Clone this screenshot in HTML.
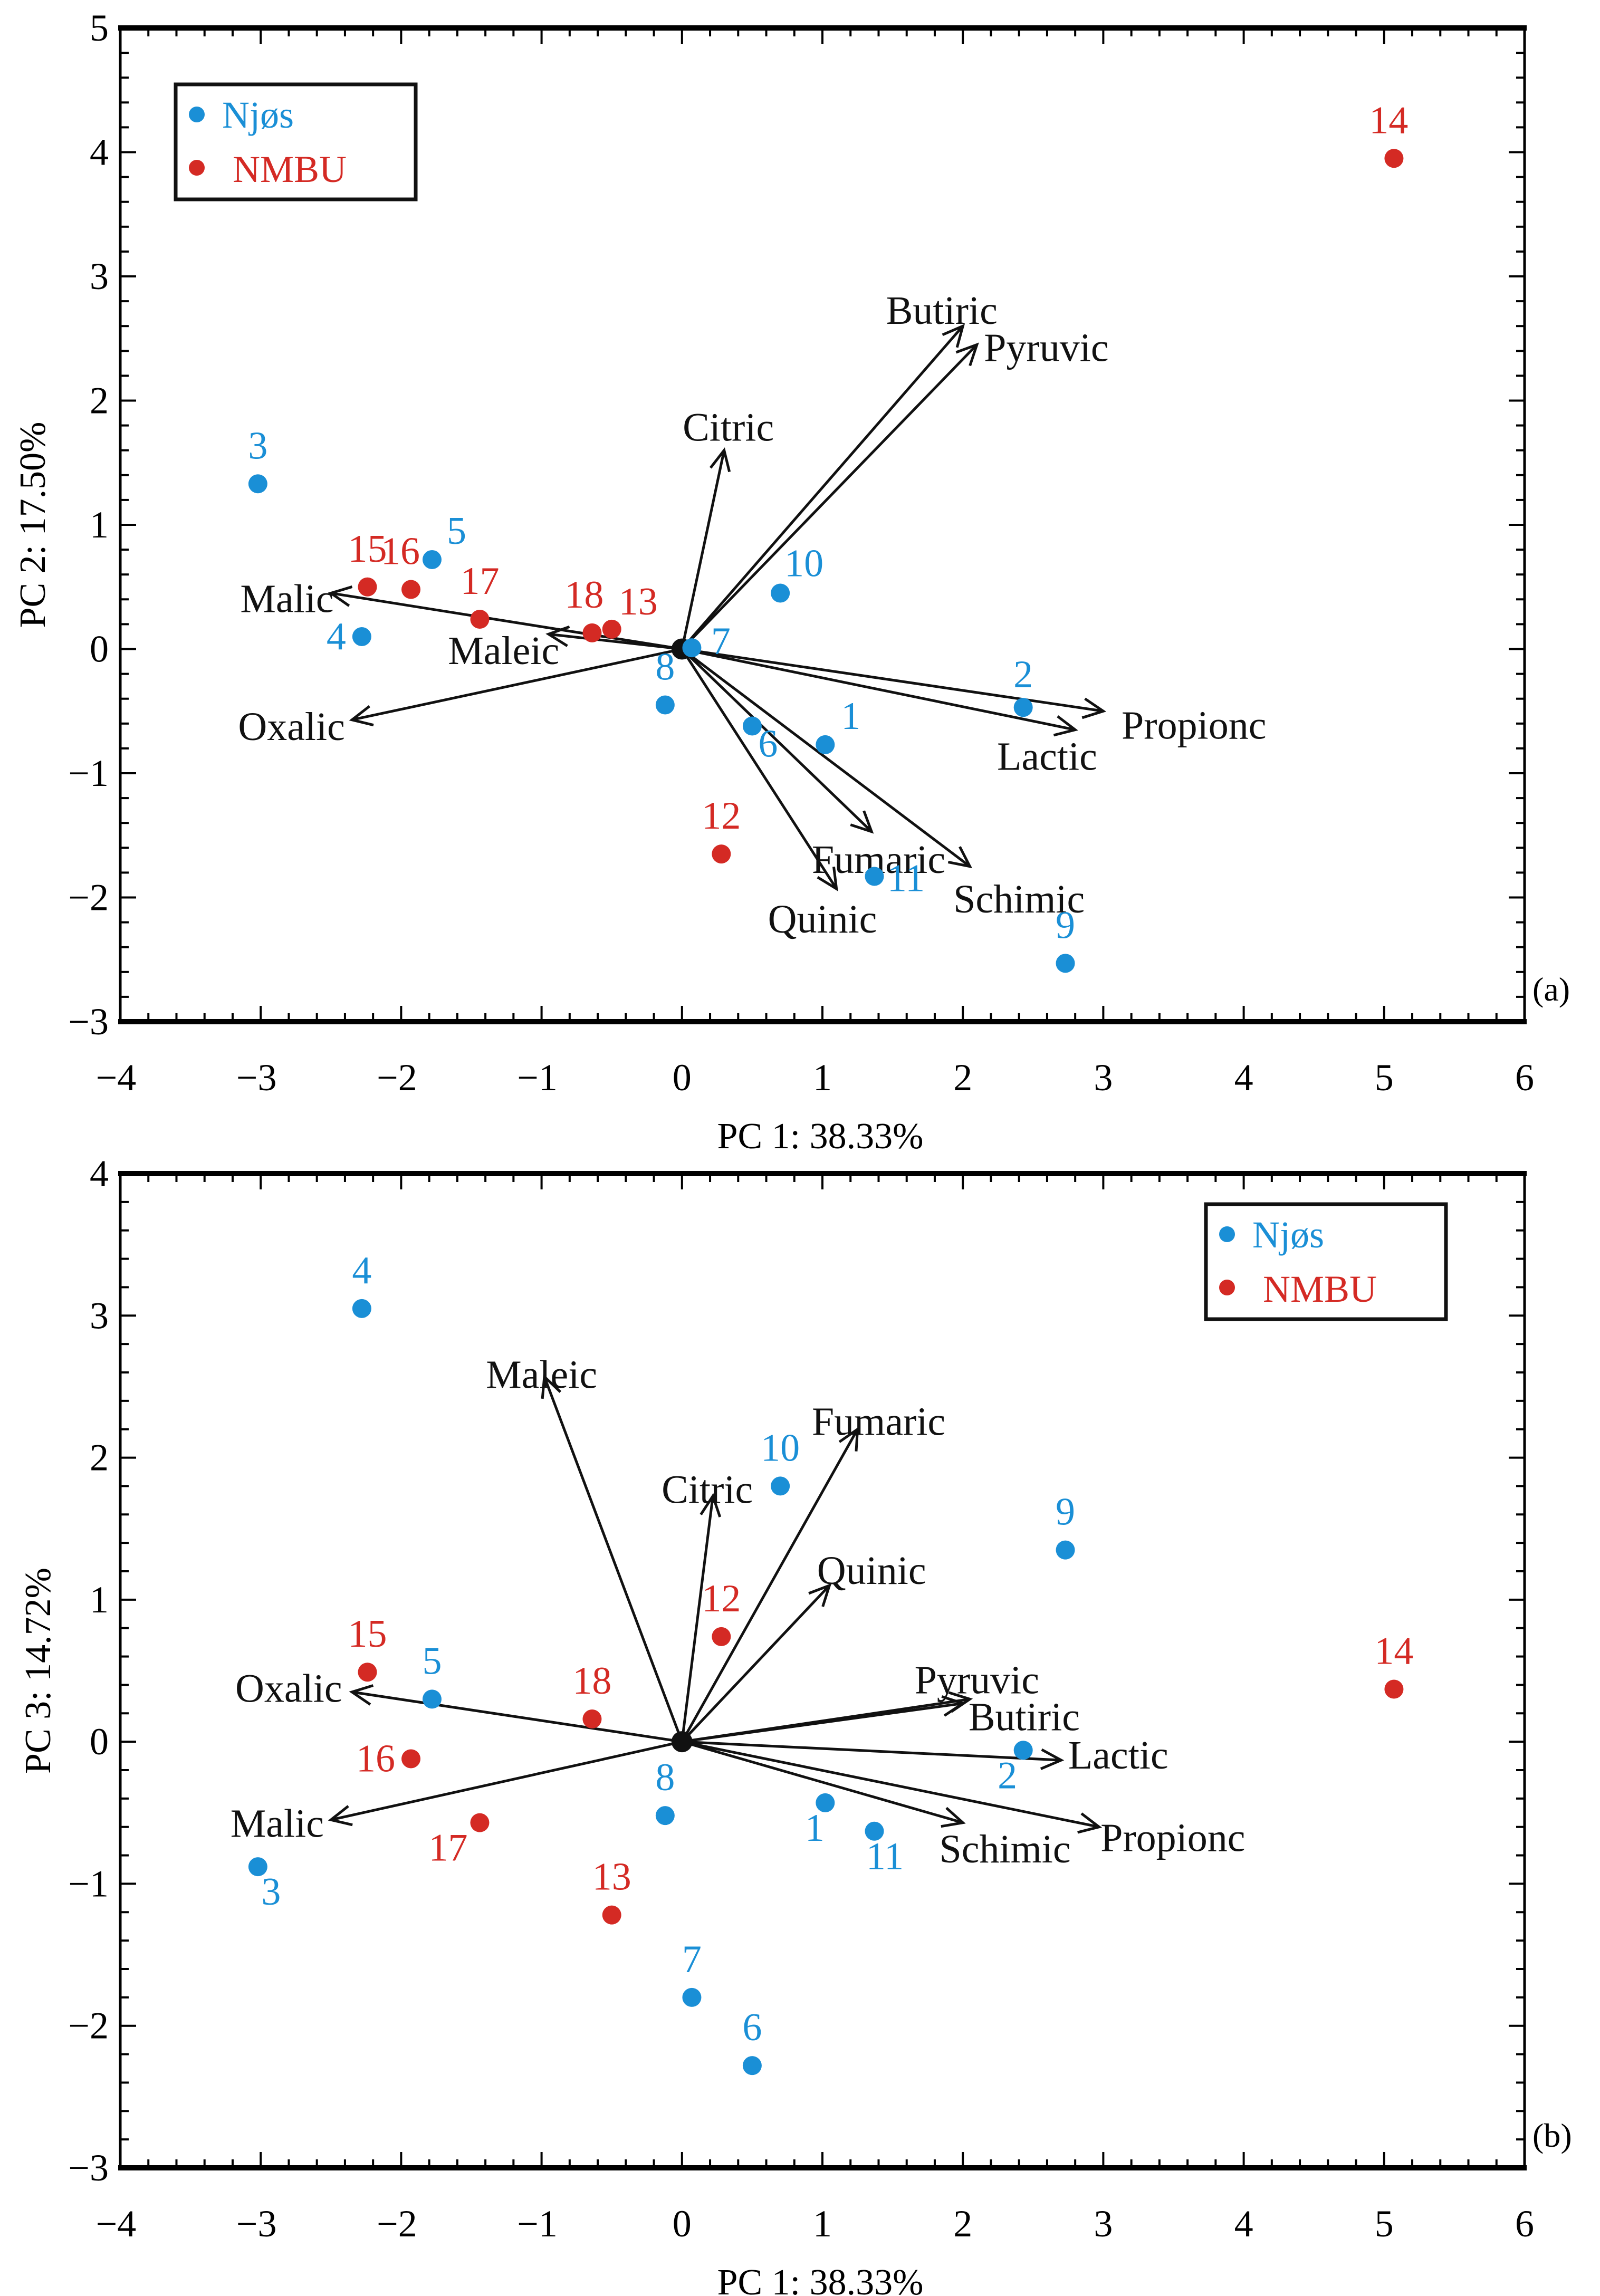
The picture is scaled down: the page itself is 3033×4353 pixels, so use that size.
<!DOCTYPE html>
<html><head><meta charset="utf-8">
<style>
html,body{margin:0;padding:0;background:#fff;}
svg{display:block;font-family:"Liberation Serif",serif;}
</style></head>
<body>
<svg id="fig" width="3033" height="4353" viewBox="0 0 3033 4353" xmlns="http://www.w3.org/2000/svg"></svg>
<script>
// ---------- data ----------
const sampleIds = ["1","2","3","4","5","6","7","8","9","10","11","12","13","14","15","16","17","18"];
const sampleGroup = ["N","N","N","N","N","N","N","N","N","N","N","M","M","M","M","M","M","M"];
const pc1Scores = [1.02,2.43,-3.02,-2.28,-1.78,0.50,0.07,-0.12,2.73,0.70,1.37,0.28,-0.50,5.07,-2.24,-1.93,-1.44,-0.64];
const pc2Scores = [-0.77,-0.47,1.33,0.10,0.72,-0.62,0.01,-0.45,-2.53,0.45,-1.83,-1.65,0.16,3.95,0.50,0.48,0.24,0.13];
const pc3Scores = [-0.43,-0.06,-0.88,3.05,0.30,-2.28,-1.80,-0.52,1.35,1.80,-0.63,0.74,-1.22,0.37,0.49,-0.12,-0.57,0.16];

const acidNames = ["Butiric","Pyruvic","Citric","Malic","Maleic","Oxalic","Propionc","Lactic","Fumaric","Schimic","Quinic"];
const loadA_x = [2.00,2.10,0.30,-2.50,-0.95,-2.35,3.00,2.80,1.35,2.05,1.10];
const loadA_y = [2.60,2.45,1.60,0.45,0.12,-0.57,-0.50,-0.65,-1.47,-1.75,-1.93];
const loadB_x = [2.05,2.00,0.22,-2.50,-0.98,-2.35,2.97,2.70,1.25,2.00,1.05];
const loadB_y = [0.30,0.27,1.73,-0.55,2.57,0.35,-0.60,-0.13,2.20,-0.57,1.10];

const xTicks = [-4,-3,-2,-1,0,1,2,3,4,5,6];
const yTicksA = [-3,-2,-1,0,1,2,3,4,5];
const yTicksB = [-3,-2,-1,0,1,2,3,4];

// ---------- label placement (style, not data) ----------
const ptLabA = {"1":[30,-30,"start"],"2":[0,-38,"middle"],"3":[0,-48,"middle"],"4":[-30,24,"end"],"5":[28,-30,"start"],"6":[30,58,"middle"],"7":[55,12,"middle"],"8":[0,-48,"middle"],"9":[0,-48,"middle"],"10":[45,-32,"middle"],"11":[60,28,"middle"],"12":[0,-48,"middle"],"13":[50,-28,"middle"],"14":[-10,-48,"middle"],"15":[0,-48,"middle"],"16":[-20,-48,"middle"],"17":[0,-48,"middle"],"18":[-15,-48,"middle"]};
const ptLabB = {"1":[-20,72,"middle"],"2":[-30,72,"middle"],"3":[25,72,"middle"],"4":[0,-48,"middle"],"5":[0,-48,"middle"],"6":[0,-48,"middle"],"7":[0,-48,"middle"],"8":[0,-48,"middle"],"9":[0,-48,"middle"],"10":[0,-48,"middle"],"11":[20,72,"middle"],"12":[0,-48,"middle"],"13":[0,-48,"middle"],"14":[0,-48,"middle"],"15":[0,-48,"middle"],"16":[-30,24,"end"],"17":[-60,72,"middle"],"18":[0,-48,"middle"]};
const arrLabA = {"Butiric":[1.85,2.72,"middle"],"Pyruvic":[2.15,2.42,"start"],"Citric":[0.33,1.78,"middle"],"Malic":[-2.48,0.40,"end"],"Maleic":[-1.27,-0.02,"middle"],"Oxalic":[-2.4,-0.63,"end"],"Propionc":[3.13,-0.62,"start"],"Lactic":[2.6,-0.87,"middle"],"Fumaric":[1.4,-1.7,"middle"],"Schimic":[2.4,-2.02,"middle"],"Quinic":[1.0,-2.18,"middle"]};
const arrLabB = {"Butiric":[2.04,0.17,"start"],"Pyruvic":[2.1,0.43,"middle"],"Citric":[0.18,1.77,"middle"],"Malic":[-2.55,-0.58,"end"],"Maleic":[-1.0,2.58,"middle"],"Oxalic":[-2.42,0.37,"end"],"Propionc":[2.98,-0.68,"start"],"Lactic":[2.75,-0.1,"start"],"Fumaric":[1.4,2.25,"middle"],"Schimic":[2.3,-0.76,"middle"],"Quinic":[1.35,1.2,"middle"]};

const BLUE="#1a8fd6", RED="#d42a24";
const NS="http://www.w3.org/2000/svg";
const svg=document.getElementById("fig");
function mk(tag,attrs,parent){const e=document.createElementNS(NS,tag);for(const k in attrs)e.setAttribute(k,attrs[k]);(parent||svg).appendChild(e);return e;}

function panel(cfg){
  const g=mk("g",{});
  
  
  const L=228,R=2890,T=cfg.top,B=cfg.bottom;
  const xs=v=>L+(v-(-4))*(R-L)/10;
  const ys=v=>T+(cfg.ymax-v)*(B-T)/(cfg.ymax-cfg.ymin);
  const tk=mk("g",{stroke:"#000","stroke-width":4},g);
  
  
  for(let i=0;i<=50;i++){const v=-4+i*0.2;const x=xs(v);const len=(i%5===0)?30:16;
    mk("line",{x1:x,y1:B,x2:x,y2:B-len},tk);mk("line",{x1:x,y1:T,x2:x,y2:T+len},tk);}
  const ny=Math.round((cfg.ymax-cfg.ymin)*5);
  for(let i=0;i<=ny;i++){const v=cfg.ymin+i*0.2;const y=ys(v);const len=(i%5===0)?30:16;
    mk("line",{x1:L,y1:y,x2:L+len,y2:y},tk);mk("line",{x1:R,y1:y,x2:R-len,y2:y},tk);}
  const fr=mk("g",{stroke:"#000"},g);
  
  
  mk("line",{x1:L-4,y1:T,x2:R+4,y2:T,"stroke-width":10},fr);
  mk("line",{x1:L-4,y1:B,x2:R+4,y2:B,"stroke-width":10},fr);
  mk("line",{x1:L,y1:T,x2:L,y2:B,"stroke-width":5},fr);
  mk("line",{x1:R,y1:T,x2:R,y2:B,"stroke-width":5},fr);
  xTicks.forEach(v=>{const t=mk("text",{x:xs(v)-(v<0?8:0),y:B+130,"text-anchor":"middle","font-size":72},g);t.textContent=(v<0?"\u2212"+(-v):String(v));
    
    });
  cfg.yTicks.forEach(v=>{const t=mk("text",{x:L-22,y:ys(v)+24,"text-anchor":"end","font-size":72},g);t.textContent=(v<0?"\u2212"+(-v):String(v));
    
    });
  const xt=mk("text",{x:1555,y:B+240,"text-anchor":"middle","font-size":70},g);xt.textContent="PC 1: 38.33%";
  
  
  const yt=mk("text",{x:0,y:0,"text-anchor":"middle","font-size":70,transform:`translate(${cfg.ytx},${(T+B)/2}) rotate(-90)`},g);yt.textContent=cfg.ytitle;
  
  
  const pl=mk("text",{x:2905,y:B-40,"font-size":64},g);pl.textContent=cfg.panelLabel;
  
  
  const ox=xs(0), oy=ys(0);
  acidNames.forEach((n,i)=>{
    const ex=xs(cfg.lx[i]), ey=ys(cfg.ly[i]);
    const a=mk("g",{stroke:"#111","stroke-width":5,fill:"none"},g);
    
    
    mk("line",{x1:ox,y1:oy,x2:ex,y2:ey},a);
    const ang=Math.atan2(ey-oy,ex-ox), h=42, s=0.45;
    mk("polyline",{points:`${ex-h*Math.cos(ang-s)},${ey-h*Math.sin(ang-s)} ${ex},${ey} ${ex-h*Math.cos(ang+s)},${ey-h*Math.sin(ang+s)}`},a);
    const lp=cfg.arrLab[n];
    const t=mk("text",{x:xs(lp[0]),y:ys(lp[1])+24,"text-anchor":lp[2],"font-size":76,fill:"#111"},g);t.textContent=n;
    
    
  });
  mk("circle",{cx:ox,cy:oy,r:20,fill:"#111"},g);
  sampleIds.forEach((id,i)=>{
    const col=sampleGroup[i]==="N"?BLUE:RED;
    const cx=xs(pc1Scores[i]), cy=ys(cfg.ys[i]);
    const c=mk("circle",{cx:cx,cy:cy,r:18,fill:col},g);
    
    
    const o=cfg.ptLab[id];
    const t=mk("text",{x:cx+o[0],y:cy+o[1],"text-anchor":o[2],"font-size":74,fill:col},g);t.textContent=id;
    
    
  });
  const lg=mk("g",{},g);
  
  
  const [lx,ly]=cfg.legend;
  mk("rect",{x:lx,y:ly,width:455,height:218,fill:"#fff",stroke:"#111","stroke-width":7},lg);
  mk("circle",{cx:lx+40,cy:ly+57,r:15,fill:BLUE},lg);
  mk("circle",{cx:lx+40,cy:ly+158,r:15,fill:RED},lg);
  const t1=mk("text",{x:lx+88,y:ly+82,"font-size":72,fill:BLUE},lg);t1.textContent="Njøs";
  
  
  const t2=mk("text",{x:lx+108,y:ly+185,"font-size":72,fill:RED},lg);t2.textContent="NMBU";
  
  
}

panel({name:"panel-a-pc1-pc2",id:"panel-a",top:53,bottom:1937,ymin:-3,ymax:5,yTicks:yTicksA,ys:pc2Scores,lx:loadA_x,ly:loadA_y,
  ptLab:ptLabA,arrLab:arrLabA,ytitle:"PC 2: 17.50%",ytx:85,panelLabel:"(a)",legend:[333,160]});
panel({name:"panel-b-pc1-pc3",id:"panel-b",top:2225,bottom:4110,ymin:-3,ymax:4,yTicks:yTicksB,ys:pc3Scores,lx:loadB_x,ly:loadB_y,
  ptLab:ptLabB,arrLab:arrLabB,ytitle:"PC 3: 14.72%",ytx:95,panelLabel:"(b)",legend:[2286,2283]});
</script>
</body></html>
